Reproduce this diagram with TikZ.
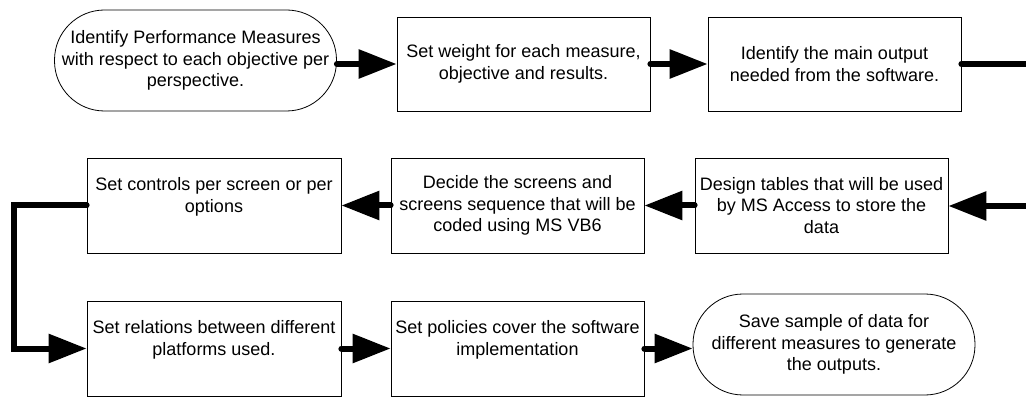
\documentclass[tikz,border=0pt]{standalone}
\usepackage{fontspec}
\setmainfont{Liberation Sans}
\usetikzlibrary{arrows.meta}

\begin{document}
\begin{tikzpicture}[x=1pt,y=-1pt,
  every node/.style={font=\fontsize{18}{21.7}\selectfont, align=center, inner sep=0pt},
  procbox/.style={draw=black, line width=0.8pt, rectangle, minimum width=253pt, minimum height=95pt},
  termbox/.style={draw=black, line width=0.8pt, rectangle, rounded corners=50pt, minimum width=282pt, minimum height=101pt},
  flow/.style={line width=6pt, line cap=round, -{Triangle[length=38pt, width=28pt]}},
  flowline/.style={line width=6pt, line cap=round}
]
\useasboundingbox (0,0) rectangle (1026,398);

% top row
\node[termbox] (A) at (195.5,60.5) {Identify Performance Measures\\with respect to each objective per\\perspective.};
\node[procbox, minimum height=94pt] (B) at (523.5,64) {Set weight for each measure,\\objective and results.};
\node[procbox, minimum height=94pt] (C) at (834.5,64) {Identify the main output\\needed from the software.};

% middle row
\node[procbox] (D) at (821.5,205.5) {Design tables that will be used\\by MS Access to store the\\data};
\node[procbox] (E) at (517.5,205.5) {Decide the screens and\\screens sequence that will be\\coded using MS VB6};
\node[procbox, minimum width=254pt] (F) at (214,205.5) {Set controls per screen or per\\options\\\mbox{}};

% bottom row
\node[procbox, minimum width=254pt] (G) at (214,348.5) {Set relations between different\\platforms used.\\\mbox{}};
\node[procbox] (H) at (517.5,348.5) {Set policies cover the software\\implementation\\\mbox{}};
\node[termbox] (I) at (834,344.5) {Save sample of data for\\different measures to generate\\the outputs.};

% free ends running off the right margin
\coordinate (outR) at (1040,64);
\coordinate (inR) at (1040,206);
\coordinate (bendL) at (14,205.5);

% connectors
\draw[flow] (A.east |- B.west) -- (B.west);
\draw[flow] (B.east) -- (C.west);
\draw[flowline] (C.east) -- (outR);
\draw[flow] (inR) -- (inR -| D.east);
\draw[flow] (D.west) -- (E.east);
\draw[flow] (E.west) -- (F.east);
\draw[flow] (F.west) -- (bendL) |- (G.west);
\draw[flow] (G.east) -- (H.west);
\draw[flow] (H.east) -- (H.east -| I.west);
\end{tikzpicture}
\end{document}
